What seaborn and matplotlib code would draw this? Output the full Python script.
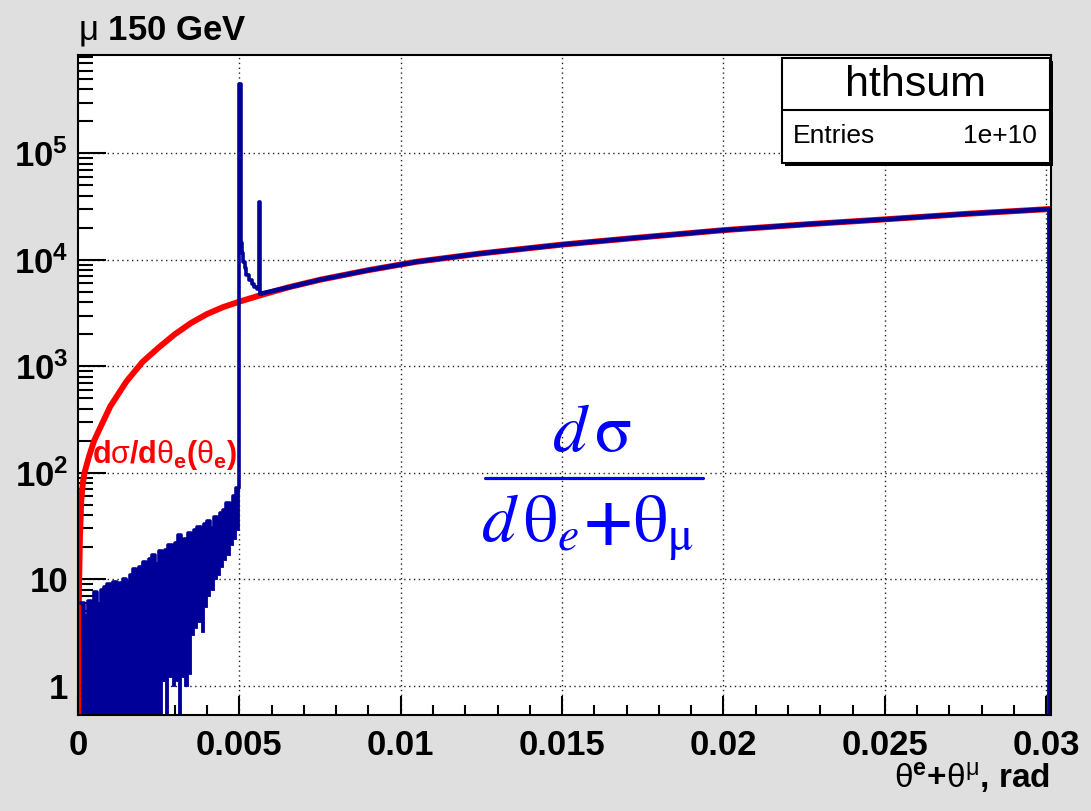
import matplotlib
matplotlib.use("Agg")
import matplotlib.pyplot as plt
import numpy as np
import pandas as pd
import seaborn as sns
from matplotlib.patches import Rectangle
from matplotlib.lines import Line2D
from matplotlib.ticker import LogLocator, MultipleLocator, NullFormatter

# ---- data -------------------------------------------------------------
# analytic dsigma/dtheta_e curve (red)
red_theta = [0.0, 0.00001, 0.00003, 0.00006, 0.0001, 0.00015, 0.0002, 0.00035,
             0.0005, 0.0007, 0.001, 0.0015, 0.002, 0.0025, 0.003,
             0.0035, 0.004, 0.0045, 0.005, 0.0056, 0.0065, 0.0075, 0.009,
             0.0105, 0.0125, 0.015, 0.0175, 0.02, 0.0225, 0.025, 0.0275, 0.0301]
red_value = [0.3, 2, 8, 25, 55, 80, 100, 145,
             200, 270, 420, 720, 1100, 1500, 2000,
             2550, 3100, 3600, 4050, 4600, 5500, 6500, 8000,
             9600, 11500, 13900, 16300, 19000, 21500, 24000, 27000, 30000]

# histogram "hthsum", low-angle region: bins of 1e-4 from 1e-4 to 5e-3,
# max / min content of the fine bins inside each
noise_start = 0.0001
noise_width = 0.0001
noise_hi = [6, 4.5, 6.2,
            6, 7.5, 5.8, 8, 8.5,
            9, 8.2, 9.5, 7.8, 9.2, 10, 9.5,
            11, 12.5, 10.5, 13, 14.5, 12,
            15.5, 17, 14, 18.5, 16, 19,
            21, 18, 22, 26, 20, 24,
            27, 23, 29, 31, 26, 33,
            35, 30, 38, 36, 42,
            45, 52, 48, 60, 72]
noise_lo = [0.3] * 25 + [1.1, 0.3, 1.2, 1.0, 1.1, 0.3, 1.2, 1.0, 1.3,
                         3.0, 3.5, 4.0, 3.2, 5.5, 7, 8, 10, 11, 13,
                         15, 17, 21, 24, 29]

# histogram around the two peaks
peak_theta = [0.00500, 0.00504, 0.00508, 0.00512, 0.00517, 0.00522, 0.00530,
              0.00538, 0.00546, 0.00554, 0.00561, 0.00565]
peak_value = [4.5e5, 1.45e4, 1.15e4, 9.6e3, 8.3e3, 7.2e3, 6.4e3,
              5.9e3, 5.5e3, 5.3e3, 3.5e4, 4.8e3]

x_ticks = [0, 0.005, 0.01, 0.015, 0.02, 0.025, 0.03]
x_tick_labels = ["0", "0.005", "0.01", "0.015", "0.02", "0.025", "0.03"]
y_ticks = [1, 10, 100, 1e3, 1e4, 1e5]
y_tick_labels = ["1", "10", r"$\mathbf{10^{2}}$", r"$\mathbf{10^{3}}$",
                 r"$\mathbf{10^{4}}$", r"$\mathbf{10^{5}}$"]
hist_name = "hthsum"
entries_text = "1e+10"

# ---- style ------------------------------------------------------------
sns.set_style("ticks")
plt.rcParams["font.family"] = ["Liberation Sans", "DejaVu Sans"]
plt.rcParams.update({
    "text.color": "black",
    "xtick.color": "black",
    "ytick.color": "black",
    "axes.labelcolor": "black",
    "mathtext.fontset": "custom",
    "mathtext.rm": "Liberation Sans",
    "mathtext.it": "Liberation Sans:italic",
    "mathtext.bf": "Liberation Sans:bold",
    "mathtext.sf": "Liberation Sans",
})

W, H = 1091, 811
NAVY = "#000099"
RED = "#ff0000"
BLUE = "#0000ff"


def fx(px):
    return px / W


def fy(py):
    return 1 - py / H


fig = plt.figure(figsize=(W / 100, H / 100), dpi=100, facecolor="#dfdfdf")
ax = fig.add_axes([fx(78), fy(715), fx(1051) - fx(78), fy(55) - fy(715)])
ax.set_facecolor("white")
ax.set_yscale("log")
ax.set_xlim(0, 0.03015)
ax.set_ylim(0.53, 8.4e5)

# dotted grid under the data, ticks stay on top
for xt in x_ticks[1:]:
    ax.axvline(xt, color="#222222", lw=1.0, ls=(0, (1, 2.5)), zorder=0.5)
for yt in y_ticks:
    ax.axhline(yt, color="#222222", lw=1.0, ls=(0, (1, 2.5)), zorder=0.5)

# red analytic curve
red_df = pd.DataFrame({"theta": red_theta, "value": red_value})
sns.lineplot(data=red_df, x="theta", y="value", color=RED, lw=4.3,
             sort=False, estimator=None, ax=ax, zorder=2)

# blue histogram: noisy low-angle band
edges = noise_start + noise_width * np.arange(len(noise_hi) + 1)
ax.fill_between(edges, noise_lo + [noise_lo[-1]], noise_hi + [noise_hi[-1]],
                step="post", color=NAVY, lw=0.6, edgecolor=NAVY, zorder=2.1)

step_df = pd.DataFrame({"theta": list(edges[:-1]) + peak_theta,
                        "value": noise_hi + peak_value})
sns.lineplot(data=step_df, x="theta", y="value", color=NAVY, lw=2.6,
             drawstyle="steps-post", sort=False, estimator=None, ax=ax,
             zorder=2.2)

# blue histogram: smooth part follows the curve, last edge drops to zero
tail_theta = [peak_theta[-1]] + [t for t in red_theta if t >= 0.0065] + [red_theta[-1]]
tail_value = [peak_value[-1]] + [v for t, v in zip(red_theta, red_value) if t >= 0.0065] + [0.3]
tail_df = pd.DataFrame({"theta": tail_theta, "value": tail_value})
sns.lineplot(data=tail_df, x="theta", y="value", color=NAVY, lw=3.3,
             sort=False, estimator=None, ax=ax, zorder=2.2)

ax.set_xlabel("")
ax.set_ylabel("")

# ticks
ax.set_xticks(x_ticks)
ax.set_xticklabels(x_tick_labels, fontsize=25, fontweight="bold")
ax.xaxis.set_minor_locator(MultipleLocator(0.001))
ax.set_yticks(y_ticks)
ax.set_yticklabels(y_tick_labels, fontsize=25, fontweight="bold")
ax.yaxis.set_minor_locator(LogLocator(base=10, subs=np.arange(2, 10), numticks=30))
ax.yaxis.set_minor_formatter(NullFormatter())
ax.tick_params(axis="x", which="major", direction="in", length=14, width=1.5,
               pad=10, top=False, colors="black")
ax.tick_params(axis="x", which="minor", direction="in", length=7, width=1.5,
               top=False)
ax.tick_params(axis="y", which="major", direction="in", length=20, width=1.5,
               pad=7, right=False, colors="black")
ax.tick_params(axis="y", which="minor", direction="in", length=11, width=1.5,
               right=False)
for sp in ax.spines.values():
    sp.set_visible(True)
    sp.set_color("black")
    sp.set_linewidth(1.5)
    sp.set_zorder(3)

# title and axis title
fig.text(fx(78), fy(40), r"$\mathrm{\mu}$ 150 GeV", fontsize=25,
         fontweight="bold", ha="left", va="baseline", color="black")
fig.text(fx(1050), fy(788),
         r"$\mathrm{\theta}^{\mathbf{e}}$+$\mathrm{\theta}^{\mathrm{\mu}}$, rad",
         fontsize=24, fontweight="bold", ha="right", va="baseline",
         color="black")

# label on the red curve
fig.text(fx(92), fy(455),
         r"d$\mathrm{\sigma}$/d$\mathrm{\theta}_{\mathbf{e}}$($\mathrm{\theta}_{\mathbf{e}}$)",
         color=RED, fontsize=22, fontweight="bold", ha="left", va="center",
         zorder=5)

# big fraction
fig.text(fx(592), fy(433), r"$d\,\mathrm{\sigma}$", color=BLUE, fontsize=49,
         ha="center", va="center", math_fontfamily="stix")
fig.add_artist(Line2D([fx(485), fx(703)], [fy(478), fy(478)],
                      transform=fig.transFigure, color=BLUE, lw=2.3))
fig.text(fx(588), fy(527),
         r"$d\,\mathrm{\theta}_{e}\mathbf{+}\mathrm{\theta}_{\mathrm{\mu}}$",
         color=BLUE, fontsize=49, ha="center", va="center",
         math_fontfamily="stix")

# statistics box with shadow
bx0, bx1, by0, bsep, by1 = 782, 1050, 58, 110, 163
fig.add_artist(Rectangle((fx(bx0) + 3 / W, fy(by1) - 3 / H), fx(bx1) - fx(bx0),
                         fy(by0) - fy(by1), transform=fig.transFigure,
                         facecolor="black", edgecolor="none", zorder=6))
fig.add_artist(Rectangle((fx(bx0), fy(by1)), fx(bx1) - fx(bx0),
                         fy(by0) - fy(by1), transform=fig.transFigure,
                         facecolor="white", edgecolor="black", lw=1.5, zorder=7))
fig.add_artist(Line2D([fx(bx0), fx(bx1)], [fy(bsep), fy(bsep)],
                      transform=fig.transFigure, color="black", lw=1.5, zorder=8))
fig.text(fx((bx0 + bx1) / 2), fy(85), hist_name, fontsize=31, ha="center",
         va="center", zorder=9, color="black")
fig.text(fx(793), fy(136), "Entries", fontsize=19, ha="left", va="center",
         zorder=9, color="black")
fig.text(fx(1037), fy(136), entries_text, fontsize=19, ha="right", va="center",
         zorder=9, color="black")

fig.savefig("out.png", dpi=100, facecolor=fig.get_facecolor())
